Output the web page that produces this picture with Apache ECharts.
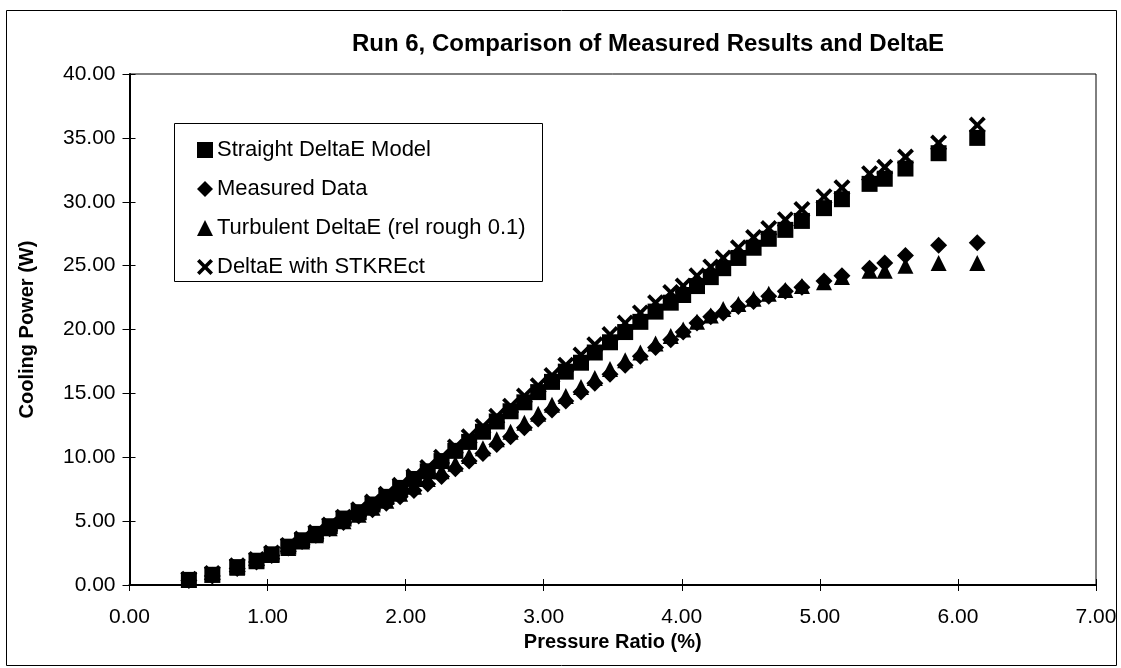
<!DOCTYPE html>
<html><head><meta charset="utf-8">
<script src="https://cdn.jsdelivr.net/npm/echarts@6/dist/echarts.min.js"></script>
<style>html,body{margin:0;padding:0;background:#fff}#c{width:1121px;height:668px}</style>
</head><body><div id="c"></div>
<script>
const pressureRatio = [0.43,0.60,0.78,0.92,1.03,1.15,1.25,1.35,1.45,1.55,1.66,1.76,1.86,1.96,2.06,2.16,2.26,2.36,2.46,2.56,2.66,2.76,2.86,2.96,3.06,3.16,3.27,3.37,3.48,3.59,3.70,3.81,3.92,4.01,4.11,4.21,4.30,4.41,4.52,4.63,4.75,4.87,5.03,5.16,5.36,5.47,5.62,5.86,6.14];
const straightDeltaE = [0.4,0.8,1.4,1.9,2.4,3.0,3.5,4.0,4.6,5.2,5.7,6.3,6.9,7.6,8.3,8.9,9.7,10.5,11.2,12.0,12.8,13.6,14.3,15.1,15.9,16.7,17.4,18.2,19.0,19.8,20.6,21.4,22.1,22.7,23.4,24.1,24.8,25.6,26.4,27.1,27.8,28.5,29.5,30.2,31.4,31.8,32.6,33.8,35.0];
const measuredData = [0.35,0.7,1.3,1.8,2.3,2.9,3.4,3.9,4.4,4.9,5.4,5.9,6.4,6.9,7.4,7.9,8.5,9.1,9.7,10.3,11.0,11.6,12.3,13.0,13.7,14.4,15.1,15.8,16.5,17.2,17.9,18.6,19.2,19.8,20.5,21.0,21.3,21.8,22.2,22.6,23.0,23.3,23.8,24.2,24.8,25.2,25.8,26.6,26.8];
const turbulentDeltaE = [0.4,0.8,1.35,1.85,2.35,2.9,3.4,3.9,4.45,5.0,5.5,6.05,6.6,7.15,7.7,8.3,8.9,9.5,10.1,10.7,11.4,12.0,12.7,13.4,14.1,14.8,15.5,16.2,16.9,17.6,18.2,18.9,19.5,20.0,20.6,21.1,21.6,22.0,22.4,22.8,23.1,23.4,23.7,24.1,24.6,24.6,25.0,25.2,25.2];
const deltaESTKREct = [0.45,0.9,1.5,2.0,2.5,3.1,3.6,4.1,4.7,5.3,5.9,6.5,7.1,7.8,8.5,9.2,10.0,10.8,11.6,12.4,13.2,14.0,14.8,15.6,16.4,17.2,18.0,18.8,19.6,20.5,21.3,22.1,22.9,23.4,24.2,24.9,25.6,26.4,27.2,27.9,28.6,29.4,30.4,31.1,32.2,32.7,33.5,34.6,36.0];
const seriesNames = ['Straight DeltaE Model','Measured Data','Turbulent DeltaE (rel rough 0.1)','DeltaE with STKREct'];
const chartTitle = 'Run 6, Comparison of Measured Results and DeltaE';
const xAxisTitle = 'Pressure Ratio (%)';
const yAxisTitle = 'Cooling Power (W)';

const xPath = 'path://M0,1.6L1.6,0L5,3.4L8.4,0L10,1.6L6.6,5L10,8.4L8.4,10L5,6.6L1.6,10L0,8.4L3.4,5Z';
const symbols = ['rect','diamond','triangle',xPath];
const values = [straightDeltaE, measuredData, turbulentDeltaE, deltaESTKREct];
const font = 'Liberation Sans, Arial, Helvetica, sans-serif';

const chart = echarts.init(document.getElementById('c'), null, {renderer:'canvas'});
const axisCommonX = {type:'value', min:0, max:7, interval:1, gridIndex:0};
const axisCommonY = {type:'value', min:0, max:40, interval:5, gridIndex:0};
chart.setOption({
  backgroundColor:'#fff',
  animation:false,
  title:{text:chartTitle, left:643, top:27, textAlign:'center',
    textStyle:{fontFamily:font, fontSize:24, fontWeight:'bold', color:'#000'}},
  grid:{left:129.5, right:25, top:74, bottom:83, show:true, borderColor:'#000', borderWidth:1, backgroundColor:'transparent'},
  legend:{show:true, orient:'vertical', left:192, top:133, itemGap:15, itemWidth:16, itemHeight:16,
    data:seriesNames.map((n,i)=>({name:n, icon:symbols[i]})),
    textStyle:{fontFamily:font, fontSize:22, color:'#000', lineHeight:24, padding:[0,0,0,-1]},
    selectedMode:false},
  xAxis:[
    Object.assign({}, axisCommonX, {position:'bottom', name:xAxisTitle, nameLocation:'middle', nameGap:43,
      nameTextStyle:{fontFamily:font, fontSize:20, fontWeight:'bold', color:'#000'},
      axisLine:{show:true, onZero:false, lineStyle:{color:'#000', width:2}},
      axisTick:{show:true, inside:false, length:6, lineStyle:{color:'#000', width:1}},
      axisLabel:{fontFamily:font, fontSize:21, color:'#000', margin:22, formatter:v=>v.toFixed(2)},
      splitLine:{show:false}}),
    Object.assign({}, axisCommonX, {position:'bottom',
      axisLine:{show:false}, axisTick:{show:true, inside:true, length:6, lineStyle:{color:'#000', width:1}},
      axisLabel:{show:false}, splitLine:{show:false}})
  ],
  yAxis:[
    Object.assign({}, axisCommonY, {position:'left', name:yAxisTitle, nameLocation:'middle', nameGap:92,
      nameTextStyle:{fontFamily:font, fontSize:20, fontWeight:'bold', color:'#000'},
      axisLine:{show:true, onZero:false, lineStyle:{color:'#000', width:2}},
      axisTick:{show:true, inside:false, length:7, lineStyle:{color:'#000', width:1}},
      axisLabel:{fontFamily:font, fontSize:21, color:'#000', margin:14, formatter:v=>v.toFixed(2)},
      splitLine:{show:false}}),
    Object.assign({}, axisCommonY, {position:'left',
      axisLine:{show:false}, axisTick:{show:true, inside:true, length:6, lineStyle:{color:'#000', width:1}},
      axisLabel:{show:false}, splitLine:{show:false}})
  ],
  graphic:[
    {type:'rect', shape:{x:6.5, y:10.5, width:1110, height:655}, style:{fill:'none', stroke:'#000', lineWidth:1}, silent:true, z:-1},
    {type:'rect', shape:{x:174.5, y:123.5, width:368, height:158}, style:{fill:'#fff', stroke:'#000', lineWidth:1}, silent:true, z:0}
  ],
  series: values.map((arr,i)=>({
    type:'scatter', name:seriesNames[i], xAxisIndex:0, yAxisIndex:0,
    symbol:symbols[i], symbolSize: i===1 ? [17,17] : (i===3 ? 17 : 16),
    itemStyle:{color:'#000', opacity:1},
    data: pressureRatio.map((x,k)=>[x, arr[k]])
  }))
});
</script></body></html>
